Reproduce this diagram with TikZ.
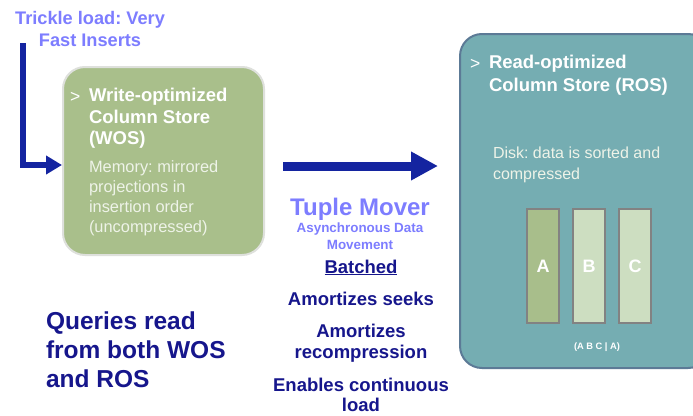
\documentclass[tikz,border=0pt]{standalone}
\usepackage{fontspec}
\setmainfont{Liberation Sans}
\usetikzlibrary{arrows.meta}
\frenchspacing
\definecolor{violetc}{RGB}{125,125,255}
\definecolor{navyc}{RGB}{22,22,140}
\definecolor{arrowc}{RGB}{20,36,160}
\definecolor{wosfill}{RGB}{169,191,139}
\definecolor{wosline}{RGB}{222,224,220}
\definecolor{rosfill}{RGB}{117,173,178}
\definecolor{rosline}{RGB}{92,122,150}
\definecolor{memtext}{RGB}{238,243,232}
\definecolor{colA}{RGB}{168,190,139}
\definecolor{colB}{RGB}{205,222,193}
\definecolor{colline}{RGB}{130,130,130}
\tikzset{
  txt/.style={inner sep=0pt, outer sep=0pt},
  storebox/.style={rounded corners=22pt, line width=2pt},
  colbox/.style={draw=colline, line width=1.2pt, minimum width=32pt, minimum height=114pt, inner sep=0pt,
    text=white, font=\bfseries\fontsize{18pt}{20pt}\selectfont},
  bigarrow/.style={draw=arrowc, line width=9pt, -{Triangle[length=27pt,width=27pt]}},
  bentarrow/.style={draw=arrowc, line width=6pt, -{Triangle[length=16pt,width=18pt]}},
}
\begin{document}
\begin{tikzpicture}[x=1pt,y=-1pt]
\useasboundingbox (0,0) rectangle (693,415);
\clip (0,0) rectangle (693,415);
\fill[white] (0,0) rectangle (693,415);

% stores
\node[storebox, draw=wosline, fill=wosfill, minimum width=201pt, minimum height=188pt] (wos) at (163.5,161) {};
\node[storebox, draw=rosline, fill=rosfill, minimum width=250pt, minimum height=334pt] (ros) at (585,201) {};

% WOS text
\node[txt, anchor=base west, text=white, font=\fontsize{17.5pt}{18pt}\selectfont] (wosgt) at (70,102) {>};
\node[txt, anchor=north west, align=left, text=white, font=\bfseries\fontsize{18.5pt}{21.5pt}\selectfont] (wost) at (89,88.5) {Write-optimized\\Column Store\\(WOS)};
\node[txt, anchor=north west, align=left, text=memtext, font=\fontsize{16.4pt}{20pt}\selectfont] (wosm) at (89,161) {Memory: mirrored\\projections in\\insertion order\\(uncompressed)};

% ROS text
\node[txt, anchor=base west, text=white, font=\fontsize{17.5pt}{18pt}\selectfont] (rosgt) at (470,69) {>};
\node[txt, anchor=north west, align=left, text=white, font=\bfseries\fontsize{18.5pt}{23pt}\selectfont] (rost) at (489,55.5) {Read-optimized\\Column Store (ROS)};
\node[txt, anchor=north west, align=left, text=memtext, font=\fontsize{16pt}{21pt}\selectfont] (rosd) at (493,147.3) {Disk: data is sorted and\\compressed};

% columns
\node[colbox, fill=colA] (ca) at (543,266) {A};
\node[colbox, fill=colB] (cb) at (589,266) {B};
\node[colbox, fill=colB] (cc) at (635,266) {C};
\node[txt, anchor=base, text=white, font=\bfseries\fontsize{9.3pt}{11pt}\selectfont] (abc) at (597,349) {(A B C | A)};

% trickle load
\node[txt, anchor=north, align=center, text=violetc, font=\bfseries\fontsize{18.2pt}{22pt}\selectfont] (trk) at (90,11.7) {Trickle load: Very\\Fast Inserts};
\coordinate (trkstart) at (23,43);
\draw[bentarrow] (trkstart) |- ([yshift=-4pt]wos.west);

% tuple mover
\coordinate (tmA) at (283,166);
\coordinate (tmB) at (438,166);
\draw[bigarrow] (tmA) -- (tmB);
\node[txt, anchor=base, text=violetc, font=\bfseries\fontsize{24pt}{28pt}\selectfont] (tm) at (360,215) {Tuple Mover};
\node[txt, anchor=north, align=center, text=violetc, font=\bfseries\fontsize{13.4pt}{17pt}\selectfont] (async) at (360,223.2) {Asynchronous Data\\Movement};
\node[txt, anchor=base, text=navyc, font=\bfseries\fontsize{18.5pt}{21pt}\selectfont] (bat) at (361,273) {\underline{Batched}};
\node[txt, anchor=base, text=navyc, font=\bfseries\fontsize{18.5pt}{21pt}\selectfont] (seek) at (361,305) {Amortizes seeks};
\node[txt, anchor=north, align=center, text=navyc, font=\bfseries\fontsize{18.5pt}{21pt}\selectfont] (recomp) at (361,323.8) {Amortizes\\recompression};
\node[txt, anchor=north, align=center, text=navyc, font=\bfseries\fontsize{18.5pt}{20pt}\selectfont] (cont) at (361,378.5) {Enables continuous\\load};

% queries
\node[txt, anchor=north west, align=left, text=navyc, font=\bfseries\fontsize{24.5pt}{29pt}\selectfont] (qry) at (46,312) {Queries read\\from both WOS\\and ROS};
\end{tikzpicture}
\end{document}
